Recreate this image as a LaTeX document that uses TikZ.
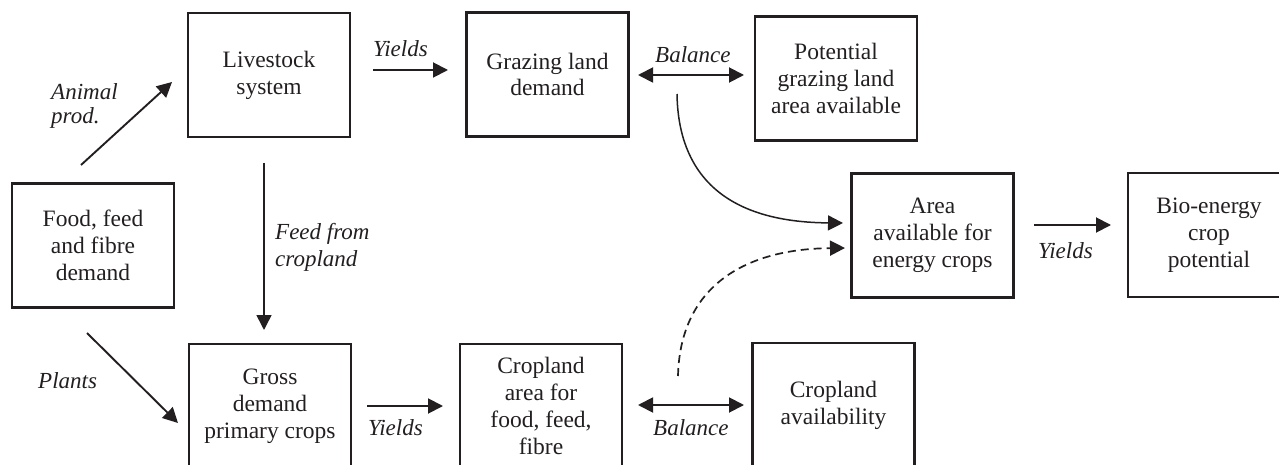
\documentclass[tikz,border=0pt]{standalone}
\usepackage{fontspec}
\setmainfont{Liberation Serif}
\usetikzlibrary{arrows.meta}
\definecolor{ink}{RGB}{35,31,32}
\begin{document}
\begin{tikzpicture}[x=1pt,y=-1pt,
  box/.style={draw=ink, text=ink, line width=2.9pt, minimum width=162pt, minimum height=124pt,
    align=center, inner sep=0pt, font=\fontsize{23.5}{26.8}\selectfont},
  lab/.style={text=ink, font=\fontsize{23}{27}\selectfont\itshape, inner sep=0pt, anchor=base west},
  tip/.tip={Triangle[length=15pt,width=15pt]},
  arr/.style={draw=ink, line width=1.9pt, -tip},
  darr/.style={draw=ink, line width=1.9pt, tip-tip},
  thin arr/.style={draw=ink, line width=1.5pt, -tip},
]
\useasboundingbox (0,0) rectangle (1279,465);
\clip (0,0) rectangle (1279,465);

% boxes
\node[box] (food)  at (93,245.5)  {Food, feed\\and fibre\\demand};
\node[box] (live)  at (269,75)    {Livestock\\system};
\node[box] (graz)  at (547.5,74.5) {Grazing land\\demand};
\node[box] (pot)   at (836,78.5)  {Potential\\grazing land\\area available};
\node[box] (area)  at (932.5,235.5) {Area\\available for\\energy crops};
\node[box] (bio)   at (1209,235)  {Bio-energy\\crop\\potential};
\node[box] (gross) at (270,406)   {Gross\\demand\\primary crops};
\node[box] (crop)  at (541,406)   {Cropland\\area for\\food, feed,\\fibre};
\node[box] (avail) at (833.5,405) {Cropland\\availability};

% connector end points
\coordinate (ap1) at (81,165);   \coordinate (ap2) at (172,82);
\coordinate (pl1) at (87,333);   \coordinate (pl2) at (178,423);
\coordinate (fc1) at (264,163);  \coordinate (fc2) at (264,330);
\coordinate (yt1) at (373,70);   \coordinate (yt2) at (448,70);
\coordinate (bt1) at (638,75);   \coordinate (bt2) at (744,75);
\coordinate (yb1) at (367,406);  \coordinate (yb2) at (443,406);
\coordinate (bb1) at (638,405);  \coordinate (bb2) at (744,405);
\coordinate (yr1) at (1034,225); \coordinate (yr2) at (1111,225);
\coordinate (cs1) at (677,94);   \coordinate (cs2) at (843,223);
\coordinate (cd1) at (678,376);  \coordinate (cd2) at (845,248);

% connectors
\draw[arr] (ap1) -- (ap2);
\draw[arr] (pl1) -- (pl2);
\draw[thin arr] (fc1) -- (fc2);
\draw[arr] (yt1) -- (yt2);
\draw[darr] (bt1) -- (bt2);
\draw[arr] (yb1) -- (yb2);
\draw[darr] (bb1) -- (bb2);
\draw[arr] (yr1) -- (yr2);
\draw[thin arr] (cs1) .. controls (678,160) and (710,222) .. (cs2);
\draw[thin arr, line width=1.7pt, dash pattern=on 8pt off 5pt] (cd1) .. controls (680,290) and (740,249) .. (cd2);

% labels
\node[lab] (l1a) at (51,100) {Animal};
\node[lab] (l1b) at (51,124) {prod.};
\node[lab] (l2)  at (38,388) {Plants};
\node[lab] (l3a) at (275,239) {Feed from};
\node[lab] (l3b) at (275,266) {cropland};
\node[lab] (l4)  at (373,57)  {Yields};
\node[lab] (l5)  at (655,63)  {Balance};
\node[lab] (l6)  at (368,435) {Yields};
\node[lab] (l7)  at (653,435) {Balance};
\node[lab] (l8)  at (1038,258) {Yields};
\end{tikzpicture}
\end{document}
